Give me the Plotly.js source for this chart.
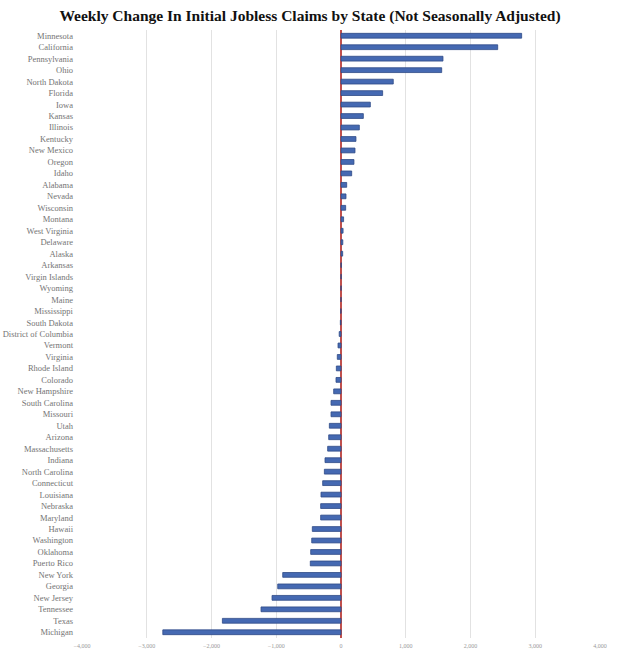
<!DOCTYPE html>
<html>
<head>
<meta charset="utf-8">
<script src="https://cdn.plot.ly/plotly-3.0.1.min.js"></script>
<style>html,body{margin:0;padding:0;background:#fff;}#chart{width:620px;height:655px;}</style>
</head>
<body>
<div id="chart"></div>
<script>
const states = ["Minnesota","California","Pennsylvania","Ohio","North Dakota","Florida","Iowa","Kansas","Illinois","Kentucky","New Mexico","Oregon","Idaho","Alabama","Nevada","Wisconsin","Montana","West Virginia","Delaware","Alaska","Arkansas","Virgin Islands","Wyoming","Maine","Mississippi","South Dakota","District of Columbia","Vermont","Virginia","Rhode Island","Colorado","New Hampshire","South Carolina","Missouri","Utah","Arizona","Massachusetts","Indiana","North Carolina","Connecticut","Louisiana","Nebraska","Maryland","Hawaii","Washington","Oklahoma","Puerto Rico","New York","Georgia","New Jersey","Tennessee","Texas","Michigan"];
const changes = [2790,2420,1575,1555,807,643,453,345,283,231,216,200,165,88,77,72,40,32,28,26,4,2,1,0,-3,-10,-28,-46,-57,-72,-77,-113,-154,-154,-180,-190,-206,-247,-257,-283,-309,-314,-314,-443,-452,-468,-474,-900,-977,-1065,-1235,-1832,-2752];
const xTicks = [-4000,-3000,-2000,-1000,0,1000,2000,3000,4000];

const trace = {
  type: 'bar',
  orientation: 'h',
  y: states,
  x: changes,
  width: 0.42,
  marker: {color: '#4569B2', line: {color: '#2E4A86', width: 0.8}},
  hoverinfo: 'x+y'
};

const layout = {
  width: 620, height: 655,
  margin: {l: 82, r: 20, t: 30, b: 17},
  paper_bgcolor: '#fff', plot_bgcolor: '#fff',
  showlegend: false,
  title: {
    text: 'Weekly Change In Initial Jobless Claims by State (Not Seasonally Adjusted)',
    x: 0.5, xanchor: 'center', y: 0.985, yanchor: 'top',
    font: {family: 'Liberation Serif, Times New Roman, serif', size: 15.5, color: '#111', weight: 'bold'}
  },
  xaxis: {
    range: [-4000, 4000],
    tickvals: xTicks,
    tickformat: ',',
    showgrid: true, gridcolor: '#e2e2e2', gridwidth: 1,
    zeroline: true, zerolinecolor: '#C0504D', zerolinewidth: 1.5,
    showline: false, ticks: '',
    ticklabelstandoff: 3,
    tickfont: {family: 'Liberation Serif, serif', size: 6, color: '#999'},
    fixedrange: true
  },
  yaxis: {
    type: 'category',
    autorange: 'reversed',
    showgrid: false, zeroline: false, showline: false, ticks: '',
    ticklabelstandoff: 8,
    tickfont: {family: 'Liberation Serif, Times New Roman, serif', size: 8.5, color: '#747474'},
    fixedrange: true
  },
  bargap: 0.55
};

Plotly.newPlot('chart', [trace], layout, {displayModeBar: false, staticPlot: true});
</script>
</body>
</html>
